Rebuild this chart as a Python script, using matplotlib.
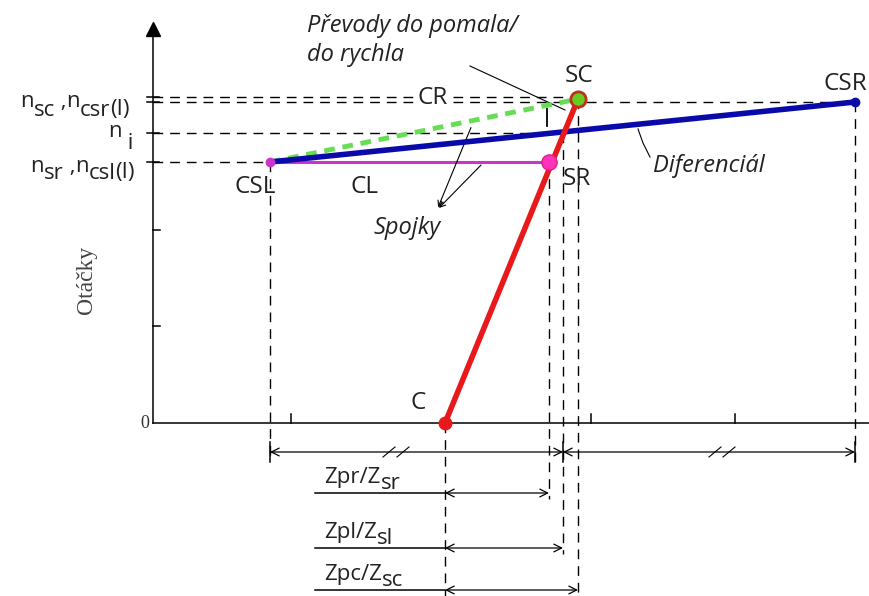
import matplotlib.pyplot as plt
import numpy as np

plt.rcParams['font.family'] = ['Open Sans', 'DejaVu Sans']

# vodorovné polohy bodů (libovolné jednotky)
x_csl, x_c, x_sr, x_i, x_sc, x_csr = 117, 292, 396, 410, 425, 702
# otáčky
n_sc, n_csr, n_i, n_sr = 326, 321, 290, 261
y_sc = 324
# další značky na osách
y_ticks = [97, 193]
x_ticks = [138, 438, 582]
# kótovací čáry (svislé polohy)
dim_top, dim_pr, dim_pl, dim_pc = -29, -70, -125, -167

fig = plt.figure(figsize=(8.69, 5.96), dpi=100)
ax = fig.add_axes([0, 0, 1, 1])
ax.set_xlim(-153, 716)
ax.set_ylim(-173, 423)
ax.axis('off')
rend = fig.canvas.get_renderer()


def rich(x, y, parts, size, ha='left'):
    # text složený z kousků, druhý prvek = posun dolů v pixelech
    objs, off = [], 0
    for s, dy in parts:
        t = ax.annotate(s, (x, y), xytext=(off, -dy), textcoords='offset pixels',
                        fontsize=size, ha='left', va='baseline', color='#222222')
        off += t.get_window_extent(rend).width
        objs.append(t)
    if ha == 'right':
        for t in objs:
            t.xyann = (t.xyann[0] - off, t.xyann[1])


k = dict(color='black', lw=1.1)
dash = dict(color='black', lw=1.0, ls=(0, (7, 5)))

# osy
ax.plot([0, 0], [0, 392], **k)
ax.plot([0], [394], marker='^', color='black', ms=10)
ax.plot([0, 716], [0, 0], **k)
for y in y_ticks:
    ax.plot([0, 7], [y, y], **k)
for y in [n_sc, n_csr, n_i, n_sr]:
    ax.plot([-6, 6], [y, y], **k)
for x in x_ticks:
    ax.plot([x, x], [0, 9], **k)
ax.text(-4, 0, '0', ha='right', va='center', fontsize=13, family='Liberation Serif', color='#333333')
ax.text(-67, 143, 'Otáčky', rotation=90, ha='center', va='center', fontsize=17,
        family='Liberation Serif', color='#444444')

# vodorovné čárkované
ax.plot([0, x_sc], [n_sc, n_sc], **dash)
ax.plot([0, x_csr], [n_csr, n_csr], **dash)
ax.plot([0, x_i], [n_i, n_i], **dash)
ax.plot([0, x_csl], [n_sr, n_sr], **dash)

# svislé čárkované
ax.plot([x_csl, x_csl], [n_sr, dim_top - 10], **dash)
ax.plot([x_csr, x_csr], [n_csr, dim_top - 10], **dash)
ax.plot([x_c, x_c], [0, -175], **dash)
ax.plot([x_sr, x_sr], [n_sr, dim_pr - 6], **dash)
ax.plot([x_i, x_i], [n_i, dim_pl - 6], **dash)
ax.plot([x_sc, x_sc], [y_sc, -175], **dash)
ax.plot([x_sr - 2, x_sr - 2], [297, 314], color='black', lw=1.3)

# čáry
ax.plot([x_csl, x_sc], [n_sr, y_sc], color='#66dd55', lw=3.5, ls=(0, (2.2, 1.6)), zorder=3)
ax.plot([x_csl, x_sr], [n_sr, n_sr], color='#cc33cc', lw=2.2, zorder=3)
ax.plot([x_csl, x_csr], [n_sr, n_csr], color='#0a0aaa', lw=4, zorder=4)
ax.plot([x_c, x_sc], [0, y_sc], color='#e8191b', lw=4, zorder=5)

# body
ax.plot([x_csl], [n_sr], 'o', color='#cc33cc', ms=6, zorder=6)
ax.plot([x_csr], [n_csr], 'o', color='#0a0aaa', ms=6, zorder=6)
ax.plot([x_c], [0], marker='o', color='#e8191b', ms=9, zorder=6)
ax.plot([x_sr], [n_sr], 'o', color='#ff33bb', mec='#dd2288', ms=11, zorder=6)
ax.plot([x_sc], [y_sc], 'o', color='#66cc22', mec='#c0301a', mew=2, ms=11, zorder=6)

# popisky bodů
fs = 17.5
ax.text(x_sc + 1, 335, 'SC', ha='center', va='bottom', fontsize=fs, color='#222222')
ax.text(x_csr - 10, 327, 'CSR', ha='center', va='bottom', fontsize=fs, color='#222222')
ax.text(280, n_sc - 1, 'CR', ha='center', va='center', fontsize=fs, color='#222222', zorder=7,
        bbox=dict(facecolor='white', edgecolor='none', pad=0))
ax.text(212, 236, 'CL', ha='center', va='center', fontsize=fs, color='#222222')
ax.text(x_csl - 15, 236, 'CSL', ha='center', va='center', fontsize=fs, color='#222222')
ax.text(x_sr + 28, 244, 'SR', ha='center', va='center', fontsize=fs, color='#222222')
ax.text(x_c - 27, 20, 'C', ha='center', va='center', fontsize=fs, color='#222222')

# popisky osy y
yl = 16
rich(-23, 316, [('n', 0), ('sc', 9), (' ,', 0), ('n', 0), ('csr', 9), ('(I)', 8)], yl, 'right')
rich(-20, 286, [('n', 0), (' i', 12)], yl, 'right')
rich(-18, 251, [('n', 0), ('sr', 7), (' ,', 0), ('n', 0), ('csl', 7), ('(I)', 6)], yl, 'right')

# poznámky
ak = dict(fontsize=17, style='italic', color='#222222')
ax.text(154, 409, 'Převody do pomala/\ndo rychla', ha='left', va='top', linespacing=1.3, **ak)
ax.plot([317, x_i + 2], [357, 313], color='black', lw=0.8)
ax.text(254, 195, 'Spojky', ha='center', va='center', **ak)
ax.annotate('', xy=(284, 213), xytext=(319, 298),
            arrowprops=dict(arrowstyle='->', lw=0.8, color='black'))
ax.annotate('', xy=(284, 213), xytext=(330, 260),
            arrowprops=dict(arrowstyle='->', lw=0.8, color='black'))
ax.text(500, 257, 'Diferenciál', ha='left', va='center', **ak)
ax.plot([497, 490, 485], [266, 280, 294], color='black', lw=0.8)

# kóty
arr = dict(arrowstyle='<->', lw=0.9, color='black', mutation_scale=14, shrinkA=0, shrinkB=0)
ax.annotate('', xy=(x_csl, dim_top), xytext=(x_i, dim_top), arrowprops=arr)
ax.annotate('', xy=(x_i, dim_top), xytext=(x_csr, dim_top), arrowprops=arr)
for x in [x_csl, x_i, x_csr]:
    ax.plot([x, x], [dim_top - 10, dim_top + 10], **k)
for xb in [236, 562]:
    for dx in [0, 14]:
        ax.plot([xb + dx - 6, xb + dx + 6], [dim_top - 5, dim_top + 5], color='black', lw=0.8)

ax.annotate('', xy=(x_c, dim_pr), xytext=(x_sr, dim_pr), arrowprops=arr)
ax.annotate('', xy=(x_c, dim_pl), xytext=(x_i, dim_pl), arrowprops=arr)
ax.annotate('', xy=(x_c, dim_pc), xytext=(x_sc, dim_pc), arrowprops=arr)
for y, a, b in [(dim_pr, 'Zpr/Z', 'sr'), (dim_pl, 'Zpl/Z', 'sl'), (dim_pc, 'Zpc/Z', 'sc')]:
    ax.plot([162, x_c], [y, y], **k)
    rich(171, y + 10, [(a, 0), (b, 6)], 16)

fig.savefig('out.png', dpi=100, facecolor='white')
